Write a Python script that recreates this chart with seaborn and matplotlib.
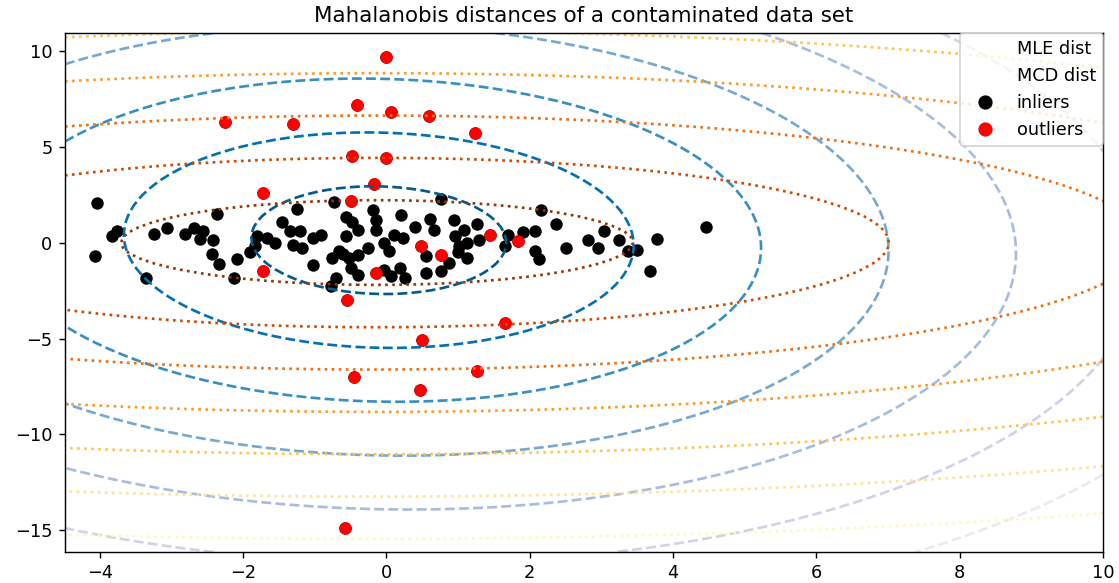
import numpy as np
import pandas as pd
import matplotlib
matplotlib.use("Agg")
import matplotlib.pyplot as plt
import seaborn as sns
from matplotlib.lines import Line2D

# ---------------- data ----------------
# (the last 8 inliers are estimates of points hidden under overlapping markers)
inlier_x = [-4.04, -3.76, -3.83, -4.06, -3.24, -3.06, -2.81, -2.69, -2.56, -2.36,
            -2.42, -2.44, -2.33, -2.08, -3.35, -2.12, -1.83, -1.80, -1.67, -1.56,
            -1.45, -1.35, -1.25, -1.31, -1.18, -1.03, -0.91, -1.03, -0.73, -0.76,
            -0.66, -0.70, -0.77, -0.56, -0.56, -0.48, -0.39, -0.52, -0.50, -0.39,
            -0.39, -0.25, -0.18, -0.15, -0.14, -0.04, 0.10, 0.03, -0.04, 0.06,
            0.23, 0.19, 0.26, 0.21, 0.61, 0.67, 0.55, 0.55, 0.76, 0.76,
            0.95, 0.96, 1.09, 1.02, 1.13, 1.27, 1.29, 0.88, 1.13,
            1.65, 1.91, 2.07, 2.16, 2.07, 2.13, 2.37, 2.82, 2.96, 3.03,
            3.24, 3.37, 3.50, 3.77, 3.68, 4.46,
            -2.60, -1.90, -1.20, -0.60, 0.40, 1.00, 1.70, 2.50]
inlier_y = [2.05, 0.63, 0.37, -0.68, 0.47, 0.74, 0.47, 0.74, 0.63, 1.47,
            0.16, -0.58, -1.11, -0.84, -1.84, -1.84, -0.16, 0.37, 0.26, 0.00,
            1.05, 0.63, 1.74, -0.11, -0.26, 0.26, 0.42, -1.16, 2.11, -0.79,
            -0.42, -1.84, -2.26, 1.32, 0.32, 1.05, 0.68, -0.79, -1.32, -1.68,
            -0.63, -0.26, 1.68, 1.16, 0.68, 0.00, 0.42, -0.42, -1.42, -1.74,
            0.26, -1.32, -1.84, 1.42, 1.21, 0.68, -0.68, -1.58, 2.26, -1.47,
            1.16, 0.37, 0.68, -0.16, -0.79, 0.95, 0.16, -1.05, 0.00,
            -0.16, 0.53, 0.63, 1.68, -0.42, -0.84, 0.95, 0.16, -0.26, 0.63,
            0.16, -0.42, -0.37, 0.21, -1.47, 0.84,
            0.20, -0.50, 0.60, -0.60, 0.80, -0.50, 0.40, -0.30]
outlier_x = [0.00, -0.41, 0.07, 0.60, -2.25, -1.31, 1.24, -0.48, 0.00, -0.17,
             -1.72, -0.50, 1.45, 0.48, 0.76, -1.72, -0.14, 1.83, -0.55, 1.65,
             0.50, -0.45, 1.27, 0.47, -0.58]
outlier_y = [9.70, 7.20, 6.80, 6.60, 6.30, 6.20, 5.70, 4.50, 4.40, 3.05,
             2.60, 2.15, 0.42, -0.20, -0.63, -1.50, -1.60, 0.10, -3.00, -4.20,
             -5.10, -7.00, -6.70, -7.70, -14.90]
mle_levels = [0, 1, 2, 3, 4, 5, 6, 7, 8]
mcd_levels = [0, 2, 4, 6, 8, 10, 12, 14, 16]
legend_labels = ["MLE dist", "MCD dist", "inliers", "outliers"]
title_text = "Mahalanobis distances of a contaminated data set"
x_right = 10.0

# ---------------- estimators ----------------
X = np.column_stack([np.r_[inlier_x, outlier_x], np.r_[inlier_y, outlier_y]])
df_all = pd.DataFrame({"x": X[:, 0], "y": X[:, 1]})
df_out = pd.DataFrame({"x": outlier_x, "y": outlier_y})


def sq_mahal(P, loc, cov):
    d = P - loc
    prec = np.linalg.inv(cov)
    return np.einsum("ij,jk,ik->i", d, prec, d)


def min_cov_det(X, n_iter=200):
    n, p = X.shape
    h = (n + p + 1) // 2
    med = np.median(X, axis=0)
    d0 = np.sum(((X - med) / X.std(axis=0)) ** 2, axis=1)
    idx = np.sort(np.argsort(d0)[:h])
    for _ in range(n_iter):
        loc = X[idx].mean(0)
        cov = np.cov(X[idx].T, bias=True)
        new = np.sort(np.argsort(sq_mahal(X, loc, cov))[:h])
        if np.array_equal(new, idx):
            break
        idx = new
    loc = X[idx].mean(0)
    cov = np.cov(X[idx].T, bias=True)
    dist = sq_mahal(X, loc, cov)
    cov = cov * np.median(dist) / (2 * np.log(2))
    dist = sq_mahal(X, loc, cov)
    mask = dist < -2 * np.log(0.025)
    return X[mask].mean(0), np.cov(X[mask].T, bias=True)


emp_loc, emp_cov = X.mean(0), np.cov(X.T, bias=True)
rob_loc, rob_cov = min_cov_det(X)

# ---------------- figure ----------------
DPI = 128
fig = plt.figure(figsize=(1119 / DPI, 583 / DPI), dpi=DPI)
ax = fig.add_axes([0.058, 0.0532, 0.9277, 0.8902])

sns.scatterplot(data=df_all, x="x", y="y", color="black", s=49, linewidth=0, ax=ax)
sns.scatterplot(data=df_out, x="x", y="y", color="red", s=49, linewidth=0, ax=ax)
ax.set_xlabel("")
ax.set_ylabel("")
ax.set_xlim(ax.get_xlim()[0], x_right)
ax.set_title(title_text)

xx, yy = np.meshgrid(np.linspace(*ax.get_xlim(), 100), np.linspace(*ax.get_ylim(), 100))
zz = np.c_[xx.ravel(), yy.ravel()]
m_emp = np.sqrt(sq_mahal(zz, emp_loc, emp_cov)).reshape(xx.shape)
m_rob = np.sqrt(sq_mahal(zz, rob_loc, rob_cov)).reshape(xx.shape)
ax.contour(xx, yy, m_emp, levels=mle_levels, cmap=plt.cm.PuBu_r, linestyles="dashed")
ax.contour(xx, yy, m_rob, levels=mcd_levels, cmap=plt.cm.YlOrBr_r, linestyles="dotted")

handles = [Line2D([], [], linestyle="none"), Line2D([], [], linestyle="none"),
           Line2D([], [], marker="o", color="black", linestyle="none", markersize=7),
           Line2D([], [], marker="o", color="red", linestyle="none", markersize=7)]
ax.legend(handles, legend_labels, loc="upper right", borderaxespad=0)

fig.savefig("out.png", dpi=DPI)
